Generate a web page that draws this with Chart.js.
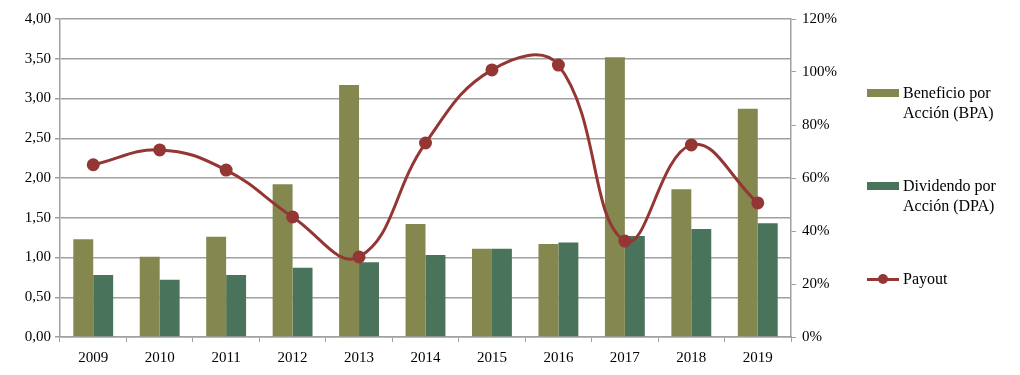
<!DOCTYPE html>
<html>
<head>
<meta charset="utf-8">
<script src="https://cdn.jsdelivr.net/npm/chart.js@4"></script>
<style>
  body { margin: 0; background: #fff; }
  #wrap { position: relative; width: 1020px; height: 375px; }
  #legend { position: absolute; left: 867px; top: 0; font-family: "Liberation Serif", serif; font-size: 16px; color: #000; }
  .item { position: absolute; left: 0; width: 150px; line-height: 20px; }
  .sw { position: absolute; left: 0; width: 32px; height: 8px; }
  .txt { position: absolute; left: 36px; white-space: nowrap; }
</style>
</head>
<body>
<div id="wrap">
  <canvas id="chart" width="1020" height="375"></canvas>
  <div id="legend"></div>
</div>
<script>
var years = ['2009', '2010', '2011', '2012', '2013', '2014', '2015', '2016', '2017', '2018', '2019'];
var bpa = [1.23, 1.01, 1.26, 1.92, 3.17, 1.42, 1.11, 1.17, 3.52, 1.86, 2.87];
var dpa = [0.78, 0.72, 0.78, 0.87, 0.94, 1.03, 1.11, 1.19, 1.27, 1.36, 1.43];
var payout = [65, 70.6, 63, 45.3, 30.2, 73.2, 100.8, 102.6, 36.2, 72.5, 50.6];

var bpaColor = '#84884f';
var dpaColor = '#4a735b';
var payoutColor = '#943634';
var gridColor = '#a0a0a0';
var fontFamily = '"Liberation Serif", serif';

Chart.defaults.font.family = fontFamily;
Chart.defaults.font.size = 15;
Chart.defaults.color = '#000';

var ctx = document.getElementById('chart').getContext('2d');
var myChart = new Chart(ctx, {
    data: {
        labels: years,
        datasets: [{
            type: 'line',
            label: 'Payout',
            data: payout,
            yAxisID: 'y1',
            borderColor: payoutColor,
            backgroundColor: payoutColor,
            borderWidth: 3,
            pointRadius: 5,
            pointBackgroundColor: payoutColor,
            pointBorderColor: payoutColor,
            tension: 0.42,
            order: 0
        }, {
            type: 'bar',
            label: 'Beneficio por Acción (BPA)',
            data: bpa,
            yAxisID: 'y',
            backgroundColor: bpaColor,
            borderWidth: 0,
            categoryPercentage: 0.6,
            barPercentage: 1.0,
            order: 1
        }, {
            type: 'bar',
            label: 'Dividendo por Acción (DPA)',
            data: dpa,
            yAxisID: 'y',
            backgroundColor: dpaColor,
            borderWidth: 0,
            categoryPercentage: 0.6,
            barPercentage: 1.0,
            order: 1
        }]
    },
    options: {
        responsive: false,
        animation: false,
        layout: { padding: { left: 0, right: 179, top: 19, bottom: 10 } },
        plugins: {
            legend: { display: false },
            tooltip: { enabled: false }
        },
        scales: {
            x: {
                grid: { offset: true, drawOnChartArea: false, color: gridColor, tickLength: 5 },
                border: { color: gridColor, width: 1.5 },
                ticks: { padding: 7 },
                afterFit: function(s) { s.height = 28; }
            },
            y: {
                position: 'left',
                min: 0,
                max: 4,
                ticks: {
                    stepSize: 0.5,
                    padding: 4,
                    callback: function(v) { return v.toFixed(2).replace('.', ','); }
                },
                grid: { color: gridColor, lineWidth: 1.5, tickLength: 5 },
                border: { color: gridColor, width: 1.5 },
                afterFit: function(s) { s.width = 60; }
            },
            y1: {
                position: 'right',
                min: 0,
                max: 120,
                ticks: {
                    stepSize: 20,
                    padding: 6,
                    callback: function(v) { return v + '%'; }
                },
                grid: { drawOnChartArea: false, color: gridColor, tickLength: 5 },
                border: { color: gridColor, width: 1.5 },
                afterFit: function(s) { s.width = 50; }
            }
        }
    }
});

// HTML legend on the right
var legendItems = [
    { lines: ['Beneficio por', 'Acción (BPA)'], color: bpaColor, top: 83, line: false },
    { lines: ['Dividendo por', 'Acción (DPA)'], color: dpaColor, top: 176, line: false },
    { lines: ['Payout'], color: payoutColor, top: 269, line: true }
];
var legend = document.getElementById('legend');
legendItems.forEach(function(it) {
    var div = document.createElement('div');
    div.className = 'item';
    div.style.top = it.top + 'px';
    var sw = document.createElement('div');
    sw.className = 'sw';
    if (it.line) {
        sw.style.top = '9px';
        sw.style.height = '3px';
        sw.style.background = it.color;
        var dot = document.createElement('div');
        dot.style.cssText = 'position:absolute;left:11px;top:-4px;width:10px;height:10px;border-radius:50%;background:' + it.color;
        sw.appendChild(dot);
    } else {
        sw.style.top = '6px';
        sw.style.background = it.color;
    }
    var txt = document.createElement('div');
    txt.className = 'txt';
    txt.innerHTML = it.lines.join('<br>');
    div.appendChild(sw);
    div.appendChild(txt);
    legend.appendChild(div);
});
</script>
</body>
</html>
